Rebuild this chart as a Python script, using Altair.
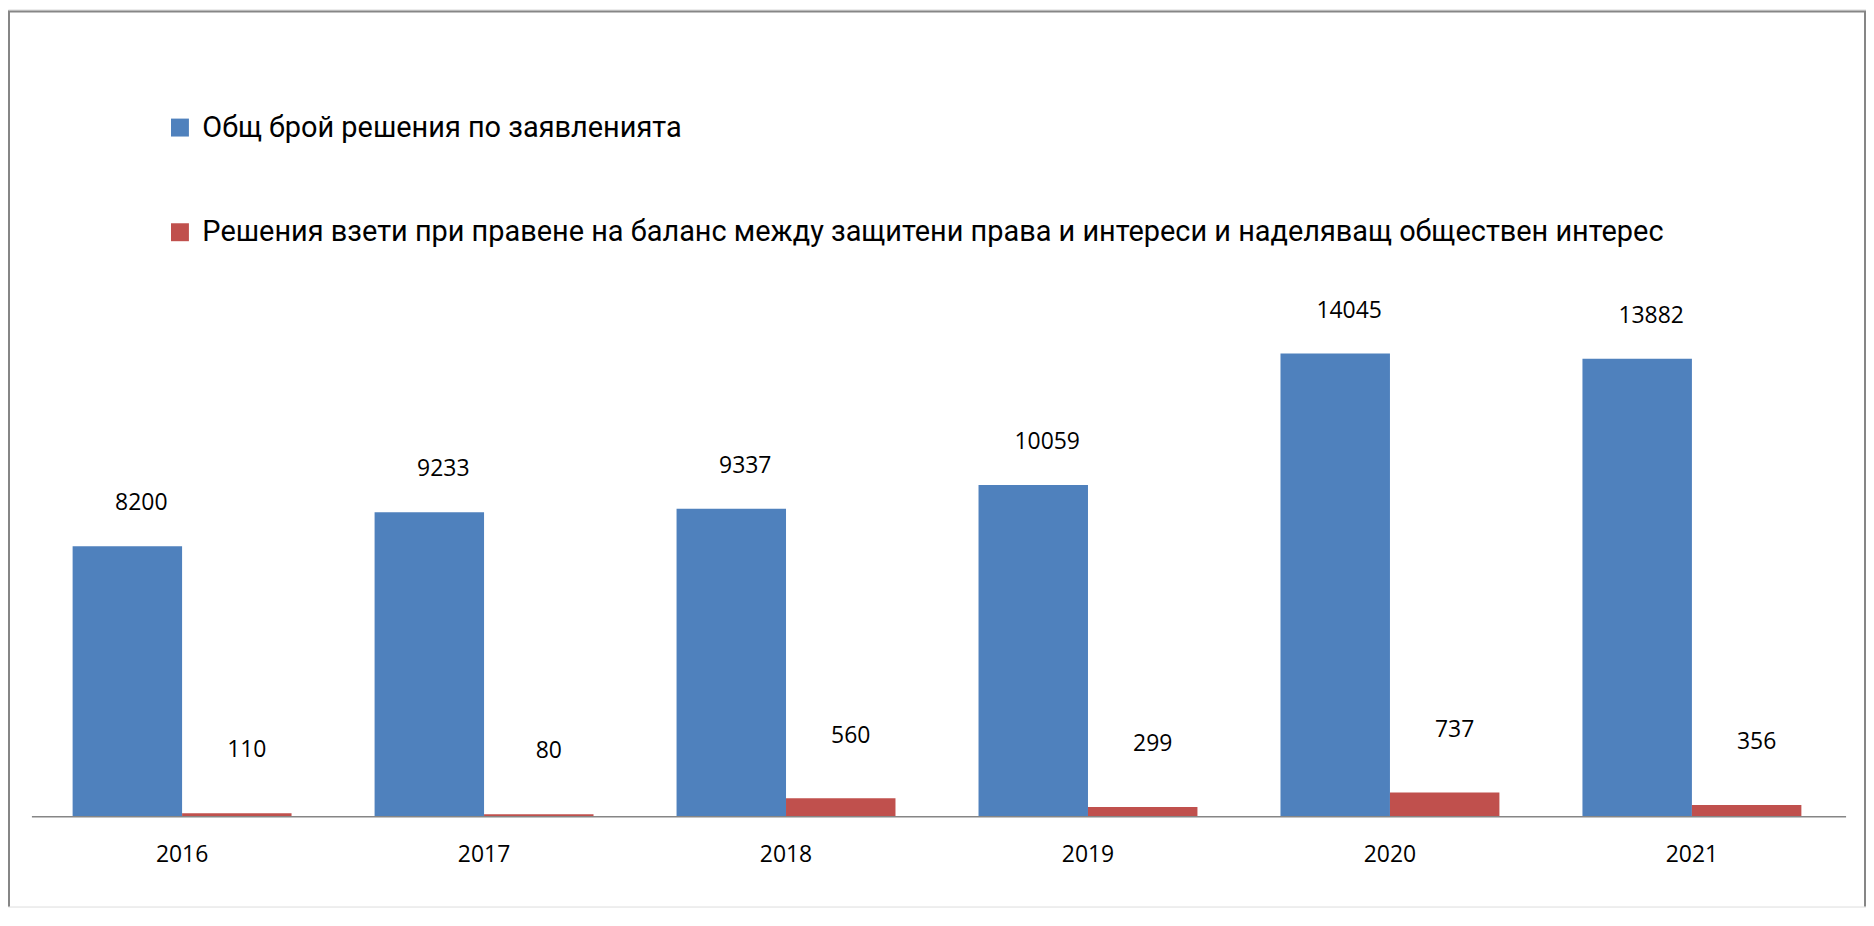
import altair as alt
import pandas as pd

# ---- data ----
years = ["2016", "2017", "2018", "2019", "2020", "2021"]
total_decisions = [8200, 9233, 9337, 10059, 14045, 13882]
balance_decisions = [110, 80, 560, 299, 737, 356]
series_names = [
    "Общ брой решения по заявленията",
    "Решения взети  при правене на баланс между защитени права и интереси и наделяващ обществен интерес",
]
series_colors = ["#4F81BD", "#C0504D"]

rows = []
for i, yr in enumerate(years):
    rows.append({"year": yr, "series": series_names[0], "value": total_decisions[i]})
    rows.append({"year": yr, "series": series_names[1], "value": balance_decisions[i]})
df = pd.DataFrame(rows)
years_df = pd.DataFrame({"year": years})
one = pd.DataFrame({"k": [0]})

W, H = 1864, 900
FONT = "Open Sans"
LEG_FONT = "Roboto"
GRAY = "#868686"

x_scale = alt.Scale(paddingInner=0.275, paddingOuter=0.214)
x_enc = alt.X("year:N", sort=years, axis=None, scale=x_scale)
y_scale = alt.Scale(domain=[-2719, 24471], nice=False, zero=False)
y_enc = alt.Y("value:Q", axis=None, scale=y_scale, stack=False)
xo_enc = alt.XOffset("series:N", sort=series_names,
                     scale=alt.Scale(domain=series_names, paddingInner=0, paddingOuter=0))
color_enc = alt.Color(
    "series:N",
    sort=series_names,
    scale=alt.Scale(domain=series_names, range=series_colors),
    legend=alt.Legend(
        title=None, orient="none", legendX=158, legendY=104, direction="vertical",
        symbolType="square", symbolSize=324, symbolStrokeWidth=0,
        labelFont=LEG_FONT, labelFontSize=29, labelColor="black", labelLimit=3000,
        labelOffset=8, rowPadding=75,
    ),
)

bars = alt.Chart(df).mark_bar().encode(
    x=x_enc, xOffset=xo_enc, y=y_enc, y2=alt.datum(0), color=color_enc
)

lbl_blue = alt.Chart(df).transform_filter(
    alt.datum.series == series_names[0]
).mark_text(font=FONT, fontSize=23, color="black", dy=-43, dx=14, baseline="middle").encode(
    x=x_enc, xOffset=xo_enc, y=y_enc, text="value:Q"
)
lbl_red = alt.Chart(df).transform_filter(
    alt.datum.series == series_names[1]
).mark_text(font=FONT, fontSize=23, color="black", dy=-63, dx=10, baseline="middle").encode(
    x=x_enc, xOffset=xo_enc, y=y_enc, text="value:Q"
)

year_lbl = alt.Chart(years_df).mark_text(font=FONT, fontSize=23, color="black", dy=38, baseline="middle").encode(
    x=x_enc,
    y=alt.datum(0),
    text="year:N",
)

axis_line = alt.Chart(one).mark_rule(color=GRAY, strokeWidth=1.5).encode(
    x=alt.value(24), x2=alt.value(1844), y=alt.datum(0)
)

frame_top = alt.Chart(one).mark_rule(color=GRAY, strokeWidth=2).encode(
    x=alt.value(0), x2=alt.value(W), y=alt.value(2)
)
frame_left = alt.Chart(one).mark_rule(color=GRAY, strokeWidth=2).encode(
    x=alt.value(1), y=alt.value(2), y2=alt.value(H)
)
frame_right = alt.Chart(one).mark_rule(color=GRAY, strokeWidth=2).encode(
    x=alt.value(W - 1), y=alt.value(2), y2=alt.value(H)
)

chart = alt.layer(
    bars, lbl_blue, lbl_red, year_lbl, axis_line, frame_top, frame_left, frame_right
).properties(
    width=W, height=H,
    padding={"left": 0, "top": 0, "right": 0, "bottom": 0},
    autosize=alt.AutoSizeParams(type="none"),
).configure_view(stroke="transparent").configure(background="white")

chart.save("out.html", embed_options={"renderer": "svg", "actions": False})
